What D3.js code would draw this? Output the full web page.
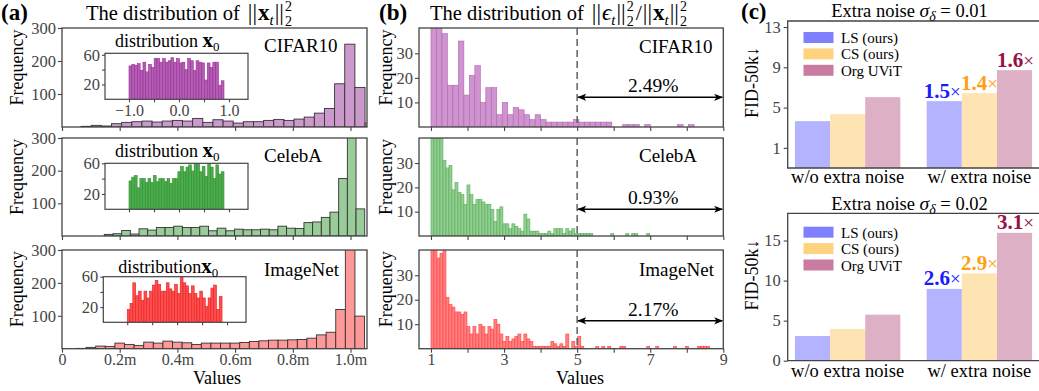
<!DOCTYPE html>
<html><head><meta charset="utf-8">
<script src="https://cdn.jsdelivr.net/npm/d3@7"></script>
<style>
body{margin:0;background:#fff;}
svg{display:block;}
</style></head><body>
<script>
// ---------------- DATA ----------------
// (a) histogram of ||x_t||^2 (values in millions), 30 bins each
const normTickValues = [0, 0.2, 0.4, 0.6, 0.8, 1.0];
const normTickLabels = ["0", "0.2m", "0.4m", "0.6m", "0.8m", "1.0m"];
const normYTicks = [100, 200, 300];
const normBinStart = [0.0662, 0.1466, 0.0503];
const normBinWidth = [0.03515, 0.03009, 0.03328];
const normCifarCounts = [2,5,3,10,14,16,18,15,18,20,18,26,14,22,18,12,16,16,20,23,20,24,30,42,56,131,251,120,12,0];
const normCelebaCounts = [5,7,17,6,22,18,26,26,30,26,26,30,16,24,16,21,19,19,21,19,30,24,23,41,43,57,73,176,330,83];
const normImagenetCounts = [1,4,8,7,17,13,10,20,17,23,20,18,13,17,17,17,17,19,22,24,26,26,27,28,32,42,50,119,380,99];

// (a) insets: distribution of x0 in [-1, 0.9]
const x0Range = [-1.0, 0.9];
const x0TickValues = [-1, -0.5, 0, 0.5, 1];
const x0TickLabels = ["\u22121.0", "", "0.0", "", "1.0"];
const x0YTicks = [20, 40, 60];
const x0YLabels = ["20", "", "60"];
const x0CifarCounts = [45,47,46,48,39,50,37,47,43,55,55,50,55,50,52,56,50,55,49,50,40,55,52,39,52,50,49,26,49,43,50,50,19,25];
const x0CelebaCounts = [37,42,44,28,40,40,35,40,35,44,36,40,40,36,40,34,40,40,49,56,49,55,58,50,60,60,49,56,43,60,55,40,58,46,49];
const x0ImagenetCounts = [17,25,52,35,41,29,41,32,41,49,55,50,41,41,52,44,41,50,38,60,52,48,38,48,38,32,41,32,21,32,45,49,17,34];

// (b) histogram of ||eps_t||^2 / ||x_t||^2
const ratioTickValues = [1,2,3,4,5,6,7,8,9];
const ratioTickLabels = ["1","","3","","5","","7","","9"];
const ratioYTicks = [10, 20, 30];
const ratioBinStart = [1.0, 1.0, 1.0];
const ratioBinWidth = [0.15, 0.082, 0.082];
const ratioCifarCounts = [60,60,38,17,17,35,13,21,25,10,16,16,5,10,5,8,7,5,3,5,3,2,2,2,2,2,3,2,2,2,2,2,2,0,0,1,1,1,0,1,0,0,0,0,0,1,0,1];
const ratioCelebaCounts = [60,60,60,60,31,28,29,19,22,18,17,13,21,17,13,15,15,14,13,13,11,6,11,12,5,5,3,5,4,3,2,9,7,2,2,2,1,1,1,2,1,3,3,3,1,3,2,3,1,1,1,1,1,1,0,0,0,0,0,0,1,0,0,0,0,1,0,1,1,0,0,0,1];
const ratioImagenetCounts = [60,60,37,39,60,21,18,17,15,15,14,15,9,6,9,6,10,9,6,9,8,12,10,6,3,5,3,4,5,6,3,6,4,3,1,1,1,1,1,1,3,2,1,2,1,6,0,3,1,5,1,0,0,0,0,1,0,1,0,1,0,0,0,1,1,0,0,0,0,0,0,0,1,0,0,1,0,0,0,0,0,1,0,0,0,1,0,0,0,1,1,1,1];
const ratioThreshold = 5;
const ratioMax = 9;
const ratioPercentLabels = ["2.49%", "0.93%", "2.17%"];
const ratioArrowLevel = [12.1, 11.0, 11.4];
const datasetNames = ["CIFAR10", "CelebA", "ImageNet"];

// (c) FID bars
const fidGroups = ["w/o extra noise", "w/ extra noise"];
const fidSeries = ["LS (ours)", "CS (ours)", "Org UViT"];
const fidLS_001 = [3.65, 5.64];
const fidCS_001 = [4.35, 6.44];
const fidOrg_001 = [6.04, 8.72];
const fidLS_002 = [3.08, 8.96];
const fidCS_002 = [3.96, 10.9];
const fidOrg_002 = [5.75, 15.96];
const fidYTicks_001 = [1, 5, 9, 13];
const fidYTicks_002 = [0, 5, 10, 15];
const fidRatios_001 = ["1.5", "1.4", "1.6"];
const fidRatios_002 = ["2.6", "2.9", "3.1"];
const fidSigma = ["0.01", "0.02"];

// ---------------- STYLE ----------------
const FONT = '"Liberation Serif","DejaVu Serif","Times New Roman",serif';
const INK = "#444";
const W = 1039, H = 391;
const mainFill = ["#cc99cc", "#99cc99", "#ff9999"];
const insetFill = ["#b35eb3", "#4cad4c", "#ff4d4d"];
const insetStroke = ["#9a2e9a", "#2f8f2f", "#e62222"];
const ratioFill = ["#cf93cf", "#93cf93", "#ff8080"];
const ratioStroke = ["#b066b0", "#55aa55", "#ff4040"];
const fidColors = ["#8080ff", "#ffd280", "#c87ca0"];
const fidTextColors = ["#1a1aff", "#ff9f0f", "#990f45"];

const svg = d3.select("body").append("svg").attr("width", W).attr("height", H)
  .attr("font-family", FONT);
const defs = svg.append("defs");
defs.append("marker").attr("id", "arr").attr("viewBox", "0 0 10 10")
  .attr("refX", 9).attr("refY", 5).attr("markerWidth", 9).attr("markerHeight", 9)
  .attr("markerUnits", "userSpaceOnUse").attr("orient", "auto-start-reverse")
  .append("path").attr("d", "M0,1 L10,5 L0,9 L2.5,5 Z").attr("fill", "#000");

let clipId = 0;
function clipRect(x0, y0, x1, y1) {
  const id = "clip" + (clipId++);
  defs.append("clipPath").attr("id", id).append("rect")
    .attr("x", x0).attr("y", y0).attr("width", x1 - x0).attr("height", y1 - y0);
  return "url(#" + id + ")";
}
function frame(x0, y0, x1, y1, sw) {
  svg.append("rect").attr("x", x0).attr("y", y0).attr("width", x1 - x0).attr("height", y1 - y0)
    .attr("fill", "none").attr("stroke", INK).attr("stroke-width", sw || 1.3);
}
function styleAxis(g, fs) {
  g.select(".domain").remove();
  g.selectAll(".tick line").attr("stroke", INK).attr("stroke-width", 1.1);
  g.selectAll(".tick text").attr("fill", INK).attr("font-size", fs).attr("font-family", FONT);
}
function rich(x, y, fs, parts, anchor, fill) {
  const t = svg.append("text").attr("x", x).attr("y", y).attr("font-size", fs)
    .attr("fill", fill || "#000").attr("text-anchor", anchor || "start");
  parts.forEach(p => {
    const s = t.append("tspan").text(p.t);
    if (p.b) s.attr("font-weight", "bold");
    if (p.i) s.attr("font-style", "italic");
    if (p.fs) s.attr("font-size", p.fs);
    if (p.dx) s.attr("dx", p.dx);
    if (p.dy) s.attr("dy", p.dy);
    if (p.fill) s.attr("fill", p.fill);
  });
  return t;
}
function ylabel(x, y, txt, fs) {
  svg.append("text").attr("transform", `translate(${x},${y}) rotate(-90)`)
    .attr("text-anchor", "middle").attr("font-size", fs).text(txt);
}
function hist(xs, ys, start, width, counts, fill, stroke, sw, clip) {
  svg.append("g").attr("clip-path", clip).selectAll("rect").data(counts).join("rect")
    .attr("x", (d, i) => xs(start + i * width))
    .attr("width", (d, i) => xs(start + (i + 1) * width) - xs(start + i * width))
    .attr("y", d => ys(d)).attr("height", d => ys(0) - ys(d))
    .attr("fill", fill).attr("stroke", stroke).attr("stroke-width", sw);
}
// pieces of the norm notation ||v_t||^2_2
function normParts(v, vb, vi) {
  return [
    {t: "||", fs: 23, dx: 3}, {t: v, b: vb, i: vi, fs: 23, dx: 1}, {t: "t", i: true, fs: 15, dy: 5},
    {t: "||", fs: 23, dy: -5, dx: 1}, {t: "2", fs: 14, dy: -9, dx: 1}, {t: "2", fs: 14, dx: -7, dy: 15}
  ];
}

// ---------------- PANEL (a) ----------------
const rowY = [[28, 127], [138, 236], [250, 348.7]];
const aL = 62, aR = 367;
const xA = d3.scaleLinear().domain([0, 1.0572]).range([aL, aR]);
const normCounts = [normCifarCounts, normCelebaCounts, normImagenetCounts];
const x0Counts = [x0CifarCounts, x0CelebaCounts, x0ImagenetCounts];
const insetBox = [[105, 53.3, 248, 99.3, 62], [105, 163.3, 248, 209.3, 60], [103.3, 276.7, 246, 322.3, 60]];
const insetTitleY = [46.7, 156.7, 273.3];

rowY.forEach(([t, b], r) => {
  const yA = d3.scaleLinear().domain([0, 300]).range([b, t]);
  hist(xA, yA, normBinStart[r], normBinWidth[r], normCounts[r], mainFill[r], "#333", 0.9, clipRect(aL, t, aR, b));
  frame(aL, t, aR, b);
  svg.append("g").attr("transform", `translate(${aL},0)`)
    .call(d3.axisLeft(yA).tickValues(normYTicks).tickSize(4).tickPadding(2))
    .call(g => styleAxis(g, 16.5));
  svg.append("g").attr("transform", `translate(0,${b})`)
    .call(d3.axisBottom(xA).tickValues(normTickValues).tickSize(4).tickPadding(1)
      .tickFormat((d, i) => r === 2 ? normTickLabels[i] : ""))
    .call(g => styleAxis(g, 16));
  ylabel(23, (t + b) / 2 - 10, "Frequency", 18);
  svg.append("text").attr("x", 264).attr("y", [52, 161.7, 276][r]).attr("font-size", 19).text(datasetNames[r]);

  // inset
  const [ix0, iy0, ix1, iy1, iymax] = insetBox[r];
  const xi = d3.scaleLinear().domain([-1.48, 1.38]).range([ix0, ix1]);
  const yi = d3.scaleLinear().domain([0, iymax]).range([iy1, iy0]);
  svg.append("rect").attr("x", ix0).attr("y", iy0).attr("width", ix1 - ix0).attr("height", iy1 - iy0).attr("fill", "#fff");
  const n = x0Counts[r].length;
  const w = (x0Range[1] - x0Range[0]) / n;
  hist(xi, yi, x0Range[0], w, x0Counts[r], insetFill[r], insetStroke[r], 0.6, clipRect(ix0, iy0, ix1, iy1));
  frame(ix0, iy0, ix1, iy1, 1.2);
  svg.append("g").attr("transform", `translate(${ix0},0)`)
    .call(d3.axisLeft(yi).tickValues(x0YTicks).tickSize(3).tickPadding(2).tickFormat((d, i) => x0YLabels[i]))
    .call(g => styleAxis(g, 16.5));
  svg.append("g").attr("transform", `translate(0,${iy1})`)
    .call(d3.axisBottom(xi).tickValues(x0TickValues).tickSize(3).tickPadding(2)
      .tickFormat((d, i) => r === 0 ? x0TickLabels[i] : ""))
    .call(g => styleAxis(g, 16));
  rich(ix0 + 10 + (r === 2 ? 5 : 0), insetTitleY[r], 18, [
    {t: r === 2 ? "distribution" : "distribution "}, {t: "x", b: true, fs: 21}, {t: "0", fs: 13, dy: 4}
  ]);
});
svg.append("text").attr("x", 217).attr("y", 384).attr("text-anchor", "middle").attr("font-size", 18).text("Values");
svg.append("text").attr("x", 1).attr("y", 19.5).attr("font-size", 23).attr("font-weight", "bold").text("(a)");
rich(86, 19.5, 20.5, [{t: "The distribution of "}].concat(normParts("x", true, false)));

// ---------------- PANEL (b) ----------------
const bL = 419, bR = 723.3;
const xB = d3.scaleLinear().domain([0.672, 9]).range([bL, bR]);
const ratioCounts = [ratioCifarCounts, ratioCelebaCounts, ratioImagenetCounts];
rowY.forEach(([t, b], r) => {
  const yB = d3.scaleLinear().domain([0, 40.3]).range([b, t]);
  hist(xB, yB, ratioBinStart[r], ratioBinWidth[r], ratioCounts[r], ratioFill[r], ratioStroke[r], 0.6, clipRect(bL, t, bR, b));
  frame(bL, t, bR, b);
  svg.append("line").attr("x1", xB(ratioThreshold)).attr("x2", xB(ratioThreshold)).attr("y1", t).attr("y2", b)
    .attr("stroke", "#555").attr("stroke-width", 1.4).attr("stroke-dasharray", "7,4");
  const ay = yB(ratioArrowLevel[r]);
  svg.append("line").attr("x1", xB(ratioThreshold) + 1).attr("x2", xB(ratioMax) - 1).attr("y1", ay).attr("y2", ay)
    .attr("stroke", "#000").attr("stroke-width", 1.5)
    .attr("marker-start", "url(#arr)").attr("marker-end", "url(#arr)");
  svg.append("text").attr("x", xB(7) + 3).attr("y", ay - 5).attr("text-anchor", "middle").attr("font-size", 19.5)
    .text(ratioPercentLabels[r]);
  svg.append("g").attr("transform", `translate(${bL},0)`)
    .call(d3.axisLeft(yB).tickValues(ratioYTicks).tickSize(4).tickPadding(2))
    .call(g => styleAxis(g, 16.5));
  svg.append("g").attr("transform", `translate(0,${b})`)
    .call(d3.axisBottom(xB).tickValues(ratioTickValues).tickSize(4).tickPadding(1)
      .tickFormat((d, i) => r === 2 ? ratioTickLabels[i] : ""))
    .call(g => styleAxis(g, 16));
  ylabel(391.5, (t + b) / 2 - 10, "Frequency", 18);
  svg.append("text").attr("x", 639).attr("y", [53.3, 161.7, 276][r]).attr("font-size", 19).text(datasetNames[r]);
});
svg.append("text").attr("x", 580).attr("y", 384).attr("text-anchor", "middle").attr("font-size", 18).text("Values");
svg.append("text").attr("x", 379).attr("y", 19.5).attr("font-size", 23).attr("font-weight", "bold").text("(b)");
rich(430, 19.5, 20.5, [{t: "The distribution of "}]
  .concat(normParts("\u03f5", false, true))
  .concat([{t: "/", fs: 22, dx: 2, dy: -6}])
  .concat(normParts("x", true, false).map((p, i) => i === 0 ? Object.assign({}, p, {dx: 1}) : p)));

// ---------------- PANEL (c) ----------------
const cL = 787.7, cR = 1039.3;
const cPanels = [
  {top: 21, bottom: 168, domain: [-1, 13.6], ticks: fidYTicks_001, vals: [fidLS_001, fidCS_001, fidOrg_001], ratios: fidRatios_001, sigma: fidSigma[0], titleY: 17, legTop: 32, xlabY: 183.3},
  {top: 213.3, bottom: 360.7, domain: [0, 18.4], ticks: fidYTicks_002, vals: [fidLS_002, fidCS_002, fidOrg_002], ratios: fidRatios_002, sigma: fidSigma[1], titleY: 210, legTop: 226.7, xlabY: 376.7}
];
const xC = d3.scaleBand().domain(fidGroups).range([cL, cR]).paddingInner(0.2).paddingOuter(0.055);
const xS = d3.scaleBand().domain(fidSeries).range([0, xC.bandwidth()]);
const labelShift = [-2, 0, 1];
cPanels.forEach(p => {
  const yC = d3.scaleLinear().domain(p.domain).range([p.bottom, p.top]);
  const base = p.domain[0];
  fidSeries.forEach((s, si) => {
    svg.append("g").selectAll("rect").data(p.vals[si]).join("rect")
      .attr("x", (d, gi) => xC(fidGroups[gi]) + xS(s)).attr("width", xS.bandwidth())
      .attr("y", d => yC(d)).attr("height", d => yC(base) - yC(d))
      .attr("fill", fidColors[si]).attr("fill-opacity", 0.6);
  });
  fidSeries.forEach((s, si) => {
    const v = p.vals[si][1];
    rich(xC(fidGroups[1]) + xS(s) + xS.bandwidth() / 2 + labelShift[si], yC(v) - 3.5, 21, [
      {t: p.ratios[si], b: true}, {t: "\u00d7", fs: 19}
    ], "middle", fidTextColors[si]);
  });
  svg.append("path").attr("d", `M${W + 5},${p.top}H${cL}V${p.bottom}H${W + 5}`)
    .attr("fill", "none").attr("stroke", INK).attr("stroke-width", 1.3);
  svg.append("g").attr("transform", `translate(${cL},0)`)
    .call(d3.axisLeft(yC).tickValues(p.ticks).tickSize(4).tickPadding(3))
    .call(g => styleAxis(g, 16.5));
  fidGroups.forEach(gname => {
    svg.append("text").attr("x", xC(gname) + xC.bandwidth() / 2).attr("y", p.xlabY)
      .attr("text-anchor", "middle").attr("font-size", 18.5).text(gname);
  });
  ylabel(758, (p.top + p.bottom) / 2 - 12, "FID-50k\u2193", 18);
  fidSeries.forEach((s, si) => {
    svg.append("rect").attr("x", 803.5).attr("y", p.legTop + si * 16.4).attr("width", 30).attr("height", 11)
      .attr("fill", fidColors[si]);
    svg.append("text").attr("x", 841).attr("y", p.legTop + si * 16.4 + 11).attr("font-size", 15).text(s);
  });
  rich(909.5, p.titleY, 18.5, [
    {t: "Extra noise "}, {t: "\u03c3", i: true, fs: 19.5}, {t: "\u03b4", i: true, fs: 14, dy: 4}, {t: " = " + p.sigma, dy: -4}
  ], "middle");
});
svg.append("text").attr("x", 741).attr("y", 19).attr("font-size", 23).attr("font-weight", "bold").text("(c)");
</script>
</body></html>
